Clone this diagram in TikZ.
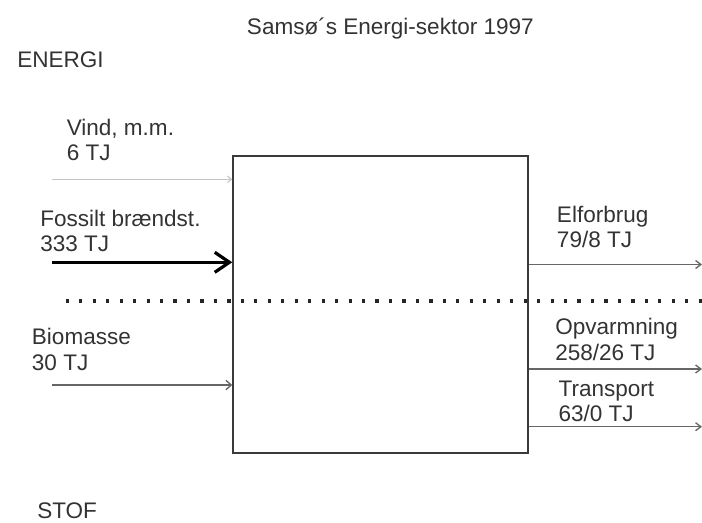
\documentclass[tikz,border=0pt]{standalone}
\usepackage{fontspec}
\setmainfont{Liberation Sans}
\usepackage{xcolor}
\usetikzlibrary{arrows.meta}
\definecolor{txtgray}{HTML}{333333}
\definecolor{boxgray}{HTML}{3A3A3A}
\definecolor{lightline}{HTML}{C4C4C4}
\definecolor{midline}{HTML}{666666}

\begin{document}
\begin{tikzpicture}[x=0.75pt,y=-0.75pt,
    lbl/.style={font=\fontsize{16.9}{18.9}\selectfont, text=txtgray, inner sep=0pt, anchor=base west, align=left},
    sektorbox/.style={draw=boxgray, line width=1.4pt, minimum width=221.25pt, minimum height=222.5pt, inner sep=0pt},
    windline/.style={draw=lightline, line width=0.8pt, -{Straight Barb[length=3pt,width=5pt]}},
    fossline/.style={draw=black, line width=2.4pt, -{Straight Barb[length=11pt,width=15pt]}},
    bioline/.style={draw=midline, line width=1pt, -{Straight Barb[length=4pt,width=7pt]}},
    outline/.style={draw=midline, line width=1pt, -{Straight Barb[length=4pt,width=6pt]}},
    dotline/.style={draw=black!85, line width=2.6pt, dash pattern=on 2.4pt off 7.7pt}]
    \useasboundingbox (0,0) rectangle (702,523);
    % overskrifter
    \node[lbl] (titel) at (246.7,34.3) {Samsø´s Energi-sektor 1997};
    \node[lbl] (energi) at (17,68) {ENERGI};
    \node[lbl] (stof) at (37,518) {STOF};
    % sektoren
    \node[sektorbox] (sektor) at (380.7,304.6) {};
    % tilførsel (anker = nederste linies basislinie)
    \node[lbl] (vindtxt) at (66.5,160.7) {Vind, m.m.\\6 TJ};
    \node[lbl] (fossiltxt) at (40,251.7) {Fossilt brændst.\\333 TJ};
    \node[lbl] (biotxt) at (31.7,370) {Biomasse\\30 TJ};
    \coordinate (vind) at (52,179.3);
    \coordinate (fossil) at (52,262.3);
    \coordinate (bio) at (52,385);
    \draw[windline] (vind) -- (vind -| sektor.west);
    \draw[fossline] (fossil) -- (fossil -| sektor.west);
    \draw[bioline] (bio) -- (bio -| sektor.west);
    % forbrug
    \node[lbl] (eltxt) at (556.7,247.3) {Elforbrug\\79/8 TJ};
    \node[lbl] (opvtxt) at (555,360) {Opvarmning\\258/26 TJ};
    \node[lbl] (transtxt) at (558.3,421.7) {Transport\\63/0 TJ};
    \coordinate (el) at (702,264.5);
    \coordinate (opv) at (702,369);
    \coordinate (trans) at (702,426.7);
    \draw[outline] (el -| sektor.east) -- (el);
    \draw[outline] (opv -| sektor.east) -- (opv);
    \draw[outline] (trans -| sektor.east) -- (trans);
    % skillelinie energi/stof
    \coordinate (skilA) at (65.7,301);
    \coordinate (skilB) at (702,301);
    \draw[dotline] (skilA) -- (skilB);
\end{tikzpicture}
\end{document}
